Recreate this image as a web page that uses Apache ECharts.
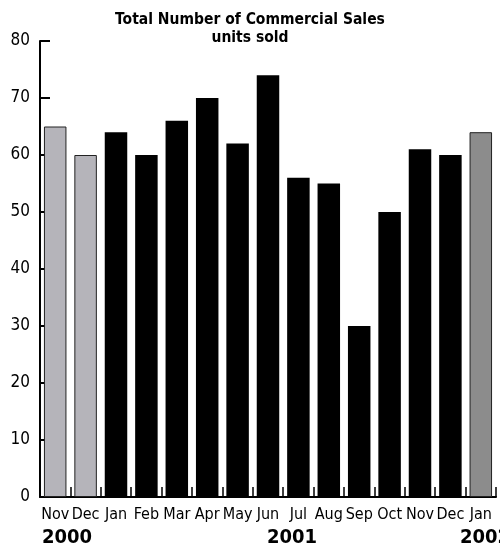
<!DOCTYPE html>
<html><head><meta charset="utf-8">
<script src="https://cdn.jsdelivr.net/npm/echarts@6/dist/echarts.min.js"></script>
<style>html,body{margin:0;padding:0;background:#fff}#c{width:500px;height:548px}</style>
</head><body><div id="c"></div>
<script>
const months = ['Nov','Dec','Jan','Feb','Mar','Apr','May','Jun','Jul','Aug','Sep','Oct','Nov','Dec','Jan'];
const sales = [65, 60, 64, 60, 66, 70, 62, 74, 56, 55, 30, 50, 61, 60, 64];
const barColors = ['#b5b4ba','#b5b4ba','#000','#000','#000','#000','#000','#000','#000','#000','#000','#000','#000','#000','#8c8c8c'];
const yearLabels = ['2000','2001','2002'];
const yTicks = [0,10,20,30,40,50,60,70,80];

const FONT = '"DejaVu Sans Condensed","Liberation Sans Narrow",sans-serif';
const chart = echarts.init(document.getElementById('c'), null, {renderer:'canvas'});
chart.setOption({
  animation: false,
  title: {
    text: 'Total Number of Commercial Sales\nunits sold',
    left: 'center', top: 6,
    textStyle: {fontFamily: FONT, fontWeight: 'bold', fontSize: 15.5, lineHeight: 18, color: '#000'}
  },
  grid: {left: 40, right: 4, top: 41, bottom: 51, containLabel: false},
  xAxis: {
    type: 'category', data: months, boundaryGap: true,
    axisLine: {lineStyle: {color: '#000', width: 2}},
    axisTick: {show: true, inside: true, length: 10, lineStyle: {color: '#000', width: 1.5}},
    axisLabel: {fontFamily: FONT, fontSize: 16, color: '#000', margin: 10, interval: 0}
  },
  yAxis: {
    type: 'value', min: 0, max: 80, interval: 10,
    axisLine: {show: true, lineStyle: {color: '#000', width: 2}},
    axisTick: {show: true, inside: true, length: 10, lineStyle: {color: '#000', width: 2}},
    splitLine: {show: false},
    axisLabel: {fontFamily: FONT, fontSize: 17, color: '#000', margin: 10,
      formatter: v => yTicks.includes(v) ? String(v) : ''}
  },
  series: [{
    type: 'bar', barCategoryGap: '26%',
    data: sales.map((v, i) => ({value: v, itemStyle: {color: barColors[i], borderColor: '#222', borderWidth: barColors[i] === '#000' ? 0 : 1}})),
    z: 3
  }],
  graphic: [
    {type: 'text', left: 42, top: 528, style: {text: yearLabels[0], font: 'bold 20px ' + FONT, fill: '#000'}},
    {type: 'text', left: 267, top: 528, style: {text: yearLabels[1], font: 'bold 20px ' + FONT, fill: '#000'}},
    {type: 'text', left: 460, top: 528, style: {text: yearLabels[2], font: 'bold 20px ' + FONT, fill: '#000'}}
  ]
});
</script></body></html>
